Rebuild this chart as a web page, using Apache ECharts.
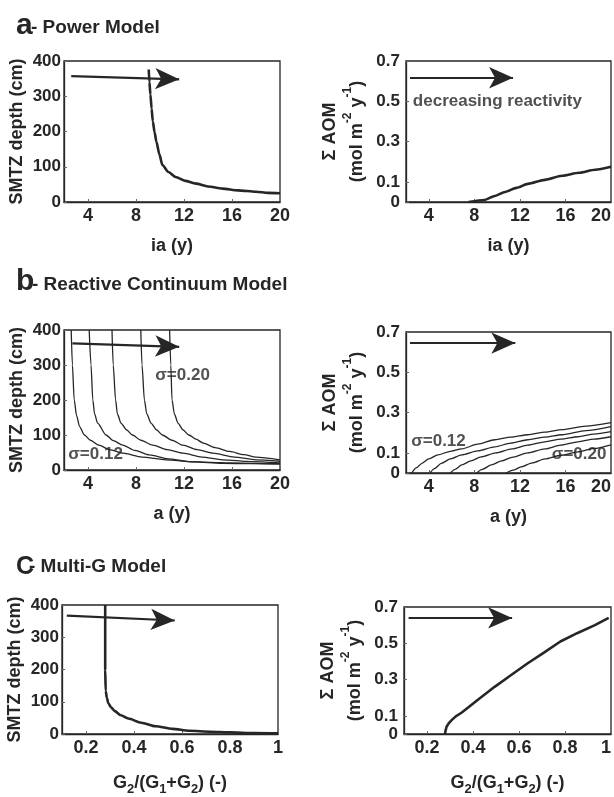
<!DOCTYPE html>
<html><head><meta charset="utf-8">
<script src="https://cdn.jsdelivr.net/npm/echarts@6/dist/echarts.min.js"></script>
<style>html,body{margin:0;padding:0;background:#fff}#c{width:614px;height:797px}</style>
</head><body><div id="c"></div>
<script>
// ---- Panel a : Power model ----
var aDepthX = [9.06, 9.12, 9.2, 9.3, 9.4, 9.55, 9.7, 9.95, 10.2, 10.7, 11.3, 12.1, 13, 14, 15.2, 16.5, 18, 19, 20];
var aDepthY = [376, 340, 305, 265, 229, 198, 171, 135, 105, 85, 71, 60, 52, 44, 38, 33, 29, 26, 25];
var aAomX = [7.5, 8.9, 9.8, 10.7, 11.7, 12.7, 14.2, 15.7, 17.2, 18.6, 20];
var aAomY = [0, 0.01, 0.03, 0.05, 0.07, 0.09, 0.11, 0.13, 0.145, 0.16, 0.175];
// ---- Panel b : Reactive continuum model (sigma 0.12 ... 0.20) ----
var bDepthX = [
  [2.6, 2.7, 2.85, 3.05, 3.3, 3.7, 4.2, 4.9, 5.8, 6.9, 8.5, 10.5, 12.8, 15.2, 17.6, 20],
  [4.1, 4.25, 4.4, 4.55, 4.8, 5.5, 6.1, 6.9, 7.9, 9.1, 10.7, 12.4, 14.2, 16, 18, 20],
  [6.0, 6.1, 6.3, 6.45, 6.75, 7.2, 7.7, 8.4, 9.4, 10.6, 11.9, 13.5, 15.2, 17.6, 20],
  [8.4, 8.5, 8.7, 8.9, 9.25, 9.7, 10.2, 11.0, 11.9, 13.1, 14.4, 16.2, 18, 20],
  [10.8, 10.9, 11.0, 11.2, 11.5, 11.9, 12.4, 13.0, 13.6, 14.6, 15.8, 17, 18, 20]
];
var bDepthY = [
  [400, 300, 200, 155, 124, 100, 85, 71, 58, 48, 37, 29, 23, 19, 18, 17],
  [400, 300, 200, 160, 134, 100, 84, 71, 56, 43, 32, 24, 22, 20, 19, 18],
  [400, 300, 200, 160, 134, 115, 100, 85, 71, 58, 48, 37, 29, 24, 20],
  [400, 300, 200, 160, 134, 115, 100, 85, 71, 58, 48, 37, 29, 25],
  [400, 300, 200, 160, 134, 115, 100, 88, 77, 64, 53, 44, 37, 29]
];
var bAomX = [
  [2.5, 2.9, 3.4, 4.0, 4.8, 5.8, 6.9, 8.3, 9.8, 11.2, 12.7, 14.2, 15.7, 17.8, 20],
  [4.1, 4.5, 5.1, 5.9, 6.9, 8.3, 9.8, 11.2, 12.7, 14.2, 15.7, 17.8, 20],
  [5.9, 6.3, 6.9, 7.7, 8.6, 9.9, 11.3, 12.7, 14.2, 15.6, 17.1, 18.5, 20],
  [8.2, 8.7, 9.5, 10.4, 11.3, 12.7, 14.2, 15.6, 17.1, 18.5, 20],
  [10.8, 11.4, 12.1, 13.1, 14.2, 15.6, 17.1, 18.5, 20]
];
var bAomY = [
  [0, 0.025, 0.048, 0.07, 0.09, 0.106, 0.12, 0.143, 0.165, 0.178, 0.19, 0.203, 0.215, 0.233, 0.25],
  [0, 0.022, 0.048, 0.07, 0.09, 0.11, 0.13, 0.148, 0.165, 0.178, 0.19, 0.21, 0.23],
  [0, 0.018, 0.04, 0.06, 0.08, 0.1, 0.12, 0.138, 0.155, 0.168, 0.18, 0.193, 0.205],
  [0, 0.018, 0.04, 0.06, 0.078, 0.1, 0.12, 0.138, 0.155, 0.168, 0.18],
  [0, 0.014, 0.03, 0.05, 0.07, 0.088, 0.105, 0.122, 0.14]
];
// ---- Panel c : Multi-G model ----
var cDepthX = [0.28, 0.28, 0.28, 0.282, 0.287, 0.293, 0.305, 0.32, 0.345, 0.376, 0.43, 0.49, 0.56, 0.63, 0.72, 0.8, 0.9, 1.0];
var cDepthY = [400, 300, 200, 134, 112, 95, 82, 71, 58, 48, 35, 24, 16, 10, 7, 5, 3, 2];
var cAomX = [0.278, 0.281, 0.285, 0.295, 0.306, 0.325, 0.35, 0.42, 0.494, 0.566, 0.638, 0.71, 0.78, 0.855, 0.93, 0.99];
var cAomY = [0, 0.02, 0.04, 0.06, 0.075, 0.097, 0.117, 0.187, 0.26, 0.325, 0.39, 0.45, 0.51, 0.557, 0.6, 0.64];
// ---- arrows and annotations ----
var arrows = [
  [[2.6, 357], [11.6, 348]],
  [[2.35, 0.617], [11.4, 0.617]],
  [[2.7, 362], [11.6, 352]],
  [[2.35, 0.645], [11.6, 0.645]],
  [[0.12, 367], [0.57, 352]],
  [[0.12, 0.64], [0.57, 0.64]]
];
var notes = [
  {panel: 1, pos: [2.6, 0.5], text: 'decreasing reactivity'},
  {panel: 2, pos: [9.6, 271], text: 'σ=0.20'},
  {panel: 2, pos: [2.35, 45], text: 'σ=0.12'},
  {panel: 3, pos: [2.45, 0.155], text: 'σ=0.12'},
  {panel: 3, pos: [14.8, 0.092], text: 'σ=0.20'}
];
var yearTicks = [4, 8, 12, 16, 20];
var fracTicks = [0.2, 0.4, 0.6, 0.8, 1];
var depthTicks = [0, 100, 200, 300, 400];
var aomTicks = [0, 0.1, 0.3, 0.5, 0.7];
var titleLetters = ['a', 'b', 'C'];
var titleTexts = ['- Power Model', '- Reactive Continuum Model', '- Multi-G Model'];

var FONT = 'Liberation Sans';
var INK = '#262626';
var grids = [
  {left: 64, top: 61, width: 216, height: 141},
  {left: 406, top: 61, width: 205, height: 141},
  {left: 64, top: 330, width: 216, height: 140},
  {left: 406, top: 332, width: 205, height: 141},
  {left: 62, top: 605, width: 216, height: 141},
  {left: 404, top: 607, width: 207, height: 140}
].map(function (g) {
  return Object.assign({show: true, borderColor: INK, borderWidth: 1.3, backgroundColor: 'transparent'}, g);
});

function zip(xs, ys) { return xs.map(function (x, i) { return [x, ys[i]]; }); }
var labelStyle = {fontFamily: FONT, fontWeight: 'bold', color: INK};

function xAx(i, isYear, name, right) {
  return {
    gridIndex: i, type: 'value', min: isYear ? 2 : 0.1, max: isYear ? 20 : 1,
    axisLine: {show: true, onZero: false, lineStyle: {color: INK, width: 1.3}},
    splitLine: {show: false},
    axisTick: {show: true, inside: true, length: 3, lineStyle: {color: '#666'}, customValues: isYear ? yearTicks : fracTicks},
    axisLabel: Object.assign({fontSize: 18, margin: 5, customValues: isYear ? yearTicks : fracTicks,
      alignMaxLabel: right ? 'right' : null}, labelStyle),
    name: name, nameLocation: 'middle', nameGap: isYear ? 35 : 40,
    nameTextStyle: Object.assign({fontSize: 18}, labelStyle, {
      rich: {
        n: {fontFamily: FONT, fontWeight: 'bold', fontSize: 18, color: INK, lineHeight: 22, verticalAlign: 'top'},
        s: {fontFamily: FONT, fontWeight: 'bold', fontSize: 13, color: INK, lineHeight: 22, verticalAlign: 'bottom', padding: [6, 0, 0, 0]}
      }
    })
  };
}
function yAx(i, isDepth) {
  var ax = {
    gridIndex: i, type: 'value', min: 0, max: isDepth ? 400 : 0.7,
    axisLine: {show: true, lineStyle: {color: INK, width: 1.3}},
    splitLine: {show: false},
    axisTick: {show: true, inside: true, length: 3, lineStyle: {color: '#666'}, customValues: isDepth ? depthTicks : aomTicks},
    axisLabel: Object.assign({fontSize: 17, margin: isDepth ? 3 : 6, customValues: isDepth ? depthTicks : aomTicks,
      formatter: function (v) { return v === 0 ? '0' : String(v); }}, labelStyle),
    nameLocation: 'middle', nameRotate: 90
  };
  if (isDepth) {
    ax.name = 'SMTZ depth (cm)';
    ax.nameGap = 38;
    ax.nameTextStyle = Object.assign({fontSize: 18}, labelStyle);
  } else {
    ax.name = '{a|Σ AOM}\n{b|(mol m}{p|-2}{b| y}{p|-1}{b|)}';
    ax.nameGap = 40;
    ax.nameTextStyle = Object.assign({fontSize: 18}, labelStyle, {
      rich: {
        a: {fontFamily: FONT, fontWeight: 'bold', fontSize: 18, color: INK, lineHeight: 24},
        b: {fontFamily: FONT, fontWeight: 'bold', fontSize: 18, color: INK, lineHeight: 24, verticalAlign: 'bottom'},
        p: {fontFamily: FONT, fontWeight: 'bold', fontSize: 12, color: INK, lineHeight: 24, verticalAlign: 'top'}
      }
    });
  }
  return ax;
}

var gName = '{n|G}{s|2}{n|/(G}{s|1}{n|+G}{s|2}{n|) (-)}';
var xAxes = [
  xAx(0, true, 'ia (y)'), xAx(1, true, 'ia (y)', true),
  xAx(2, true, 'a (y)'), xAx(3, true, 'a (y)', true),
  xAx(4, false, gName), xAx(5, false, gName, true)
];
var yAxes = [yAx(0, true), yAx(1, false), yAx(2, true), yAx(3, false), yAx(4, true), yAx(5, false)];

function curve(i, pts, w, sm) {
  return {
    type: 'line', xAxisIndex: i, yAxisIndex: i, data: pts, showSymbol: false, symbol: 'none',
    smooth: sm, smoothMonotone: 'x', clip: true,
    lineStyle: {color: INK, width: w}, silent: true, z: 3
  };
}
var series = [];
series.push(curve(0, zip(aDepthX, aDepthY), 2.6, 0.25));
series.push(curve(1, zip(aAomX, aAomY), 2.6, 0.25));
bDepthX.forEach(function (xs, k) { series.push(curve(2, zip(xs, bDepthY[k]), 1.3, 0.25)); });
bAomX.forEach(function (xs, k) { series.push(curve(3, zip(xs, bAomY[k]), 1.3, 0.25)); });
series.push(curve(4, zip(cDepthX, cDepthY), 2.6, 0.25));
series.push(curve(5, zip(cAomX, cAomY), 2.6, false));

arrows.forEach(function (ar, i) {
  series.push({
    type: 'line', xAxisIndex: i, yAxisIndex: i, data: [], silent: true,
    markLine: {
      silent: true, animation: false, symbol: ['none', 'arrow'], symbolSize: [16, 24],
      label: {show: false},
      lineStyle: {color: INK, width: 2.2, type: 'solid'},
      data: [[{coord: ar[0]}, {coord: ar[1]}]]
    }
  });
});
notes.forEach(function (n) {
  series.push({
    type: 'scatter', xAxisIndex: n.panel, yAxisIndex: n.panel, symbolSize: 0, silent: true,
    data: [n.pos],
    label: {show: true, position: 'right', distance: 0, formatter: n.text,
      fontFamily: FONT, fontWeight: 'bold', fontSize: 17, color: INK},
    z: 5
  });
});

var letterTops = [6, 262, 550];
var letterLefts = [11, 11, 11];
var letterSizes = [30, 30, 25];
var textTops = [18, 275, 557];
var textLefts = [31, 32, 29];
var titleOpts = [];
titleLetters.forEach(function (l, k) {
  titleOpts.push({text: l, left: letterLefts[k], top: letterTops[k],
    textStyle: {fontFamily: FONT, fontWeight: 'bold', fontSize: letterSizes[k], color: INK}});
  titleOpts.push({text: titleTexts[k], left: textLefts[k], top: textTops[k], padding: 0,
    textStyle: {fontFamily: FONT, fontWeight: 'bold', fontSize: 19, color: INK}});
});

var chart = echarts.init(document.getElementById('c'), null, {renderer: 'canvas'});
chart.setOption({
  animation: false,
  backgroundColor: '#ffffff',
  title: titleOpts,
  grid: grids,
  xAxis: xAxes,
  yAxis: yAxes,
  series: series
});
</script></body></html>
